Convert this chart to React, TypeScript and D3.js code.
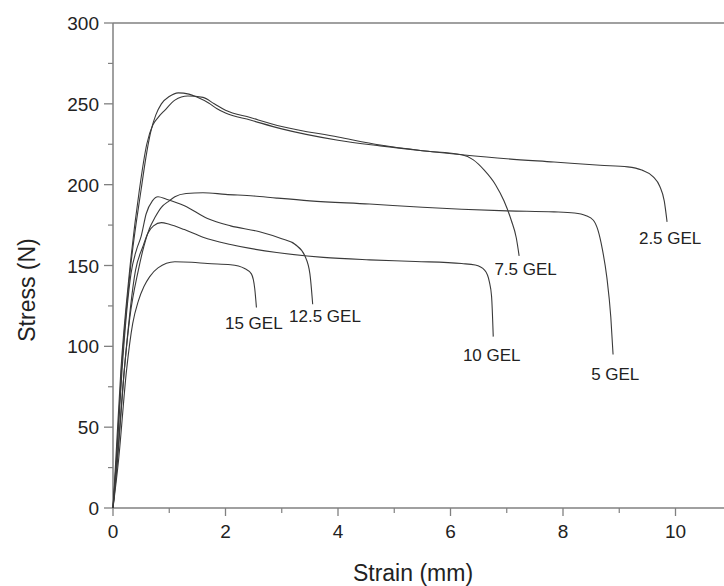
import React from "react";
import * as d3 from "d3";

const seriesNames = ["2.5 GEL", "7.5 GEL", "5 GEL", "12.5 GEL", "10 GEL", "15 GEL"];

const gel25Strain = [0, 0.06, 0.15, 0.3, 0.5, 0.6, 0.68, 0.76, 0.86, 1.0, 1.16, 1.35, 1.5, 1.7, 1.85, 2.0, 2.44, 3.0, 4.0, 4.75, 5.5, 6.2, 7.0, 7.84, 8.66, 9.15, 9.4, 9.6, 9.72, 9.8, 9.85];
const gel25Stress = [0, 30, 85, 145, 197, 220, 234, 243, 250, 254.5, 256.8, 256, 254, 250.5, 247, 244.3, 240, 234.5, 227.5, 224, 221, 218.5, 216, 214, 212, 211, 209, 205, 199, 190, 177];

const gel75Strain = [0, 0.05, 0.14, 0.29, 0.47, 0.6, 0.71, 0.8, 0.92, 1.1, 1.33, 1.6, 1.8, 2.0, 2.44, 3.0, 4.0, 4.75, 5.5, 6.2, 6.4, 6.6, 6.8, 6.95, 7.08, 7.17, 7.22];
const gel75Stress = [0, 30, 85, 145, 197, 225, 237, 241.5, 246, 252.3, 254.8, 254, 250, 246, 241.5, 236, 229.5, 224.5, 221, 218.5, 215.5, 209, 200, 190, 178, 167, 156];

const gel5Strain = [0, 0.07, 0.2, 0.3, 0.45, 0.55, 0.65, 0.75, 0.86, 1.0, 1.1, 1.3, 1.6, 2.0, 2.5, 2.91, 3.5, 4.56, 5.5, 6.2, 7.0, 7.84, 8.2, 8.4, 8.54, 8.62, 8.7, 8.78, 8.85, 8.89];
const gel5Stress = [0, 25, 85, 118, 147, 162, 173, 180, 186, 190, 192.5, 194.5, 195, 194, 193, 191.7, 190, 188, 186, 184.8, 183.8, 183.2, 182.5, 181, 178, 172, 160, 142.5, 118, 95];

const gel125Strain = [0, 0.06, 0.16, 0.32, 0.42, 0.5, 0.59, 0.7, 0.8, 0.95, 1.27, 1.68, 2.09, 2.59, 3.0, 3.24, 3.41, 3.5, 3.55];
const gel125Stress = [0, 28, 85, 145, 160, 168, 182, 190, 192.5, 191, 187, 179, 174.5, 171, 166.5, 163, 156, 145, 126];

const gel10Strain = [0, 0.07, 0.2, 0.4, 0.53, 0.62, 0.72, 0.86, 1.0, 1.27, 1.6, 2.09, 2.91, 3.74, 4.56, 5.38, 6.2, 6.44, 6.61, 6.69, 6.73, 6.76];
const gel10Stress = [0, 28, 85, 147, 161.6, 170, 174.5, 176.5, 175.5, 172.2, 167.5, 163, 158, 155, 153.5, 152.5, 151.2, 150.3, 147, 140, 131, 106];

const gel15Strain = [0, 0.1, 0.24, 0.35, 0.45, 0.55, 0.65, 0.8, 1.1, 1.4, 1.68, 2.09, 2.34, 2.46, 2.52, 2.55];
const gel15Stress = [0, 30, 85, 114, 128, 137, 143, 148.5, 152.3, 152, 151.2, 150.5, 148.2, 144.8, 135.6, 124];

const labelStrain = [9.35, 6.78, 8.5, 3.13, 6.22, 1.99];
const labelStress = [163, 144, 79, 115, 91, 111];

const xTicks = [0, 2, 4, 6, 8, 10];
const yTicks = [0, 50, 100, 150, 200, 250, 300];

const allStrain = [gel25Strain, gel75Strain, gel5Strain, gel125Strain, gel10Strain, gel15Strain];
const allStress = [gel25Stress, gel75Stress, gel5Stress, gel125Stress, gel10Stress, gel15Stress];

export default function App() {
  const W = 724, H = 586;
  const x = d3.scaleLinear().domain([0, 11]).range([113, 113 + 56.25 * 11]);
  const y = d3.scaleLinear().domain([0, 300]).range([508, 23]);
  const line = d3
    .line<[number, number]>()
    .x((d) => x(d[0]))
    .y((d) => y(d[1]))
    .curve(d3.curveMonotoneX);

  const minorX = d3.range(1, 11, 2);
  const minorY = d3.range(25, 300, 50);
  const axisColor = "#808080";
  const font = "'Liberation Sans', Arial, sans-serif";

  return (
    <svg width={W} height={H} style={{ position: "absolute", left: 0, top: 0, background: "#fff" }}>
      <rect x={0} y={0} width={W} height={H} fill="#fff" />
      <line x1={x(0)} x2={W} y1={y(300)} y2={y(300)} stroke={axisColor} strokeWidth={1.3} />
      <line x1={x(0)} x2={W} y1={y(0)} y2={y(0)} stroke={axisColor} strokeWidth={1.5} />
      <line x1={x(0)} x2={x(0)} y1={y(0)} y2={y(300)} stroke={axisColor} strokeWidth={1.5} />
      {xTicks.map((t) => (
        <g key={"xt" + t}>
          <line x1={x(t)} x2={x(t)} y1={y(0)} y2={y(0) + 8} stroke={axisColor} strokeWidth={1.3} />
          <text x={x(t)} y={y(0) + 30} textAnchor="middle" fontFamily={font} fontSize={19} fill="#222">
            {t}
          </text>
        </g>
      ))}
      {minorX.map((t) => (
        <line key={"xm" + t} x1={x(t)} x2={x(t)} y1={y(0)} y2={y(0) + 5} stroke={axisColor} strokeWidth={1.2} />
      ))}
      {yTicks.map((t) => (
        <g key={"yt" + t}>
          <line x1={x(0) - 9} x2={x(0)} y1={y(t)} y2={y(t)} stroke={axisColor} strokeWidth={1.3} />
          <text x={x(0) - 14} y={y(t) + 7} textAnchor="end" fontFamily={font} fontSize={19} fill="#222">
            {t}
          </text>
        </g>
      ))}
      {minorY.map((t) => (
        <line key={"ym" + t} x1={x(0) - 5} x2={x(0)} y1={y(t)} y2={y(t)} stroke={axisColor} strokeWidth={1.2} />
      ))}
      {allStrain.map((xs, i) => {
        const pts = xs.map((v, j) => [v, allStress[i][j]] as [number, number]);
        return <path key={"s" + i} d={line(pts) || ""} fill="none" stroke="#3a3a3a" strokeWidth={1.1} />;
      })}
      {seriesNames.map((n, i) => (
        <text key={"l" + i} x={x(labelStrain[i])} y={y(labelStress[i])} fontFamily={font} fontSize={17} fill="#222">
          {n}
        </text>
      ))}
      <text x={413} y={581} textAnchor="middle" fontFamily={font} fontSize={23} fill="#222">
        Strain (mm)
      </text>
      <text
        transform={`translate(35, ${290}) rotate(-90)`}
        textAnchor="middle"
        fontFamily={font}
        fontSize={23}
        fill="#222"
      >
        Stress (N)
      </text>
    </svg>
  );
}
